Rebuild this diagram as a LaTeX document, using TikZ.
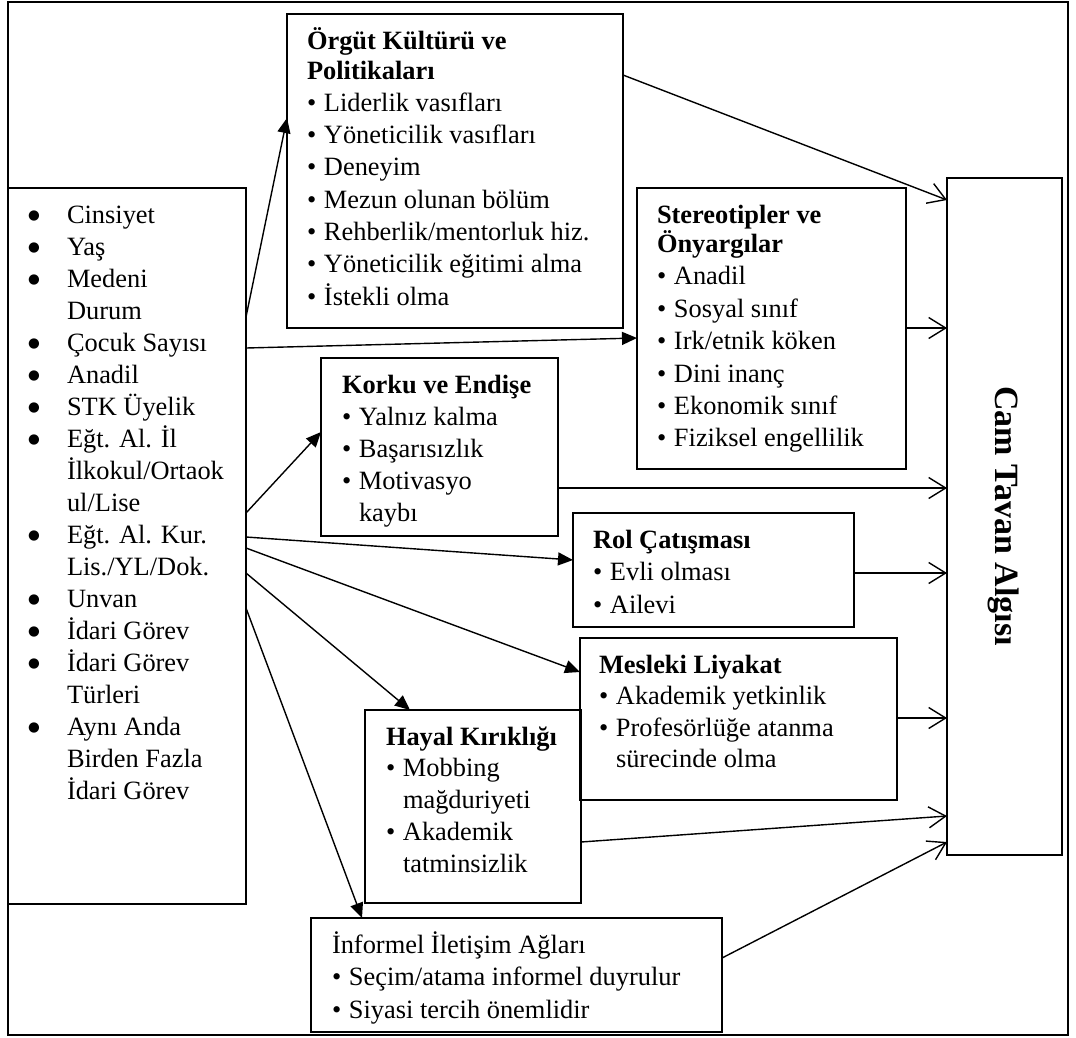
\documentclass[tikz,border=0pt]{standalone}
\usepackage{fontspec}
\setmainfont{Liberation Serif}
\newfontfamily\dejavu{DejaVu Sans}
\usetikzlibrary{arrows.meta}
\newlength{\bw}
\setlength{\bw}{17pt}
\newcommand{\bu}{\makebox[\bw][l]{•}}
\newcommand{\bigbu}{\makebox[\bw][l]{\hspace*{0.5pt}\raisebox{3.5pt}{\dejavu\fontsize{13.5}{14}\selectfont ●}}}
\newcommand{\ind}{\hspace*{\bw}}
\begin{document}
\begin{tikzpicture}[x=1pt,y=-1pt,
  box/.style={draw, line width=1.2pt, anchor=north west, inner sep=0pt, outer sep=0pt},
  txt/.style={anchor=base west, inner sep=0pt, outer sep=0pt, font=\fontsize{26.4}{32}\selectfont},
  fa/.style={line width=1.4pt, -{Triangle[length=15pt,width=13pt]}},
  oa/.style={line width=1.4pt, -{Straight Barb[length=17pt,width=21pt,line width=1.4pt]}}]
\useasboundingbox (0,0) rectangle (1076,1037);
\node[box, line width=1.8pt, minimum width=1060pt, minimum height=1033pt] (outer) at (8,2) {};
% boxes
\node[box, minimum width=238pt, minimum height=716pt] (lb) at (8,188) {};
\node[box, minimum width=336pt, minimum height=314pt] (org) at (287,14) {};
\node[box, minimum width=269pt, minimum height=281pt] (ster) at (637,188) {};
\node[box, minimum width=115pt, minimum height=677pt] (cam) at (947,178) {};
\node[box, minimum width=237pt, minimum height=178pt] (kork) at (321,358) {};
\node[box, minimum width=281pt, minimum height=114pt] (rol) at (573,513) {};
\node[box, minimum width=317pt, minimum height=162pt] (mes) at (580,638) {};
\node[box, minimum width=216pt, minimum height=193pt] (hay) at (365,710) {};
\node[box, minimum width=411pt, minimum height=114pt] (inf) at (311,918) {};
% texts
\node[txt] (lbt) at (27.5,223) {\setlength{\bw}{39.5pt}\vtop{\baselineskip=32pt\lineskiplimit=-100pt
\hbox{\bigbu Cinsiyet}
\hbox{\bigbu Yaş}
\hbox{\bigbu Medeni}
\hbox{\ind Durum}
\hbox{\bigbu Çocuk Sayısı}
\hbox{\bigbu Anadil}
\hbox{\bigbu STK Üyelik}
\hbox{\bigbu Eğt. Al. İl}
\hbox{\ind İlkokul/Ortaok}
\hbox{\ind ul/Lise}
\hbox{\bigbu Eğt. Al. Kur.}
\hbox{\ind Lis./YL/Dok.}
\hbox{\bigbu Unvan}
\hbox{\bigbu İdari Görev}
\hbox{\bigbu İdari Görev}
\hbox{\ind Türleri}
\hbox{\bigbu Aynı Anda}
\hbox{\ind Birden Fazla}
\hbox{\ind İdari Görev}}};
\node[txt] (orgt) at (307,49) {\vtop{\baselineskip=30pt\lineskiplimit=-100pt
\hbox{\bfseries Örgüt Kültürü ve}
\hbox{\bfseries Politikaları}
\baselineskip=32.3pt
\hbox{\bu Liderlik vasıfları}
\hbox{\bu Yöneticilik vasıfları}
\hbox{\bu Deneyim}
\hbox{\bu Mezun olunan bölüm}
\hbox{\bu Rehberlik/mentorluk hiz.}
\hbox{\bu Yöneticilik eğitimi alma}
\hbox{\bu İstekli olma}}};
\node[txt] (stert) at (657,223) {\vtop{\baselineskip=29.5pt\lineskiplimit=-100pt
\hbox{\bfseries Stereotipler ve}
\hbox{\bfseries Önyargılar}
\baselineskip=32.4pt
\hbox{\bu Anadil}
\hbox{\bu Sosyal sınıf}
\hbox{\bu Irk/etnik köken}
\hbox{\bu Dini inanç}
\hbox{\bu Ekonomik sınıf}
\hbox{\bu Fiziksel engellilik}}};
\node[txt] (korkt) at (342,393) {\vtop{\baselineskip=32pt\lineskiplimit=-100pt
\hbox{\bfseries Korku ve Endişe}
\hbox{\bu Yalnız kalma}
\hbox{\bu Başarısızlık}
\hbox{\bu Motivasyo}
\hbox{\ind kaybı}}};
\node[txt] (rolt) at (593,548) {\vtop{\baselineskip=32.5pt\lineskiplimit=-100pt
\hbox{\bfseries Rol Çatışması}
\hbox{\bu Evli olması}
\hbox{\bu Ailevi}}};
\node[txt] (mest) at (599,673) {\vtop{\baselineskip=31.5pt\lineskiplimit=-100pt
\hbox{\bfseries Mesleki Liyakat}
\hbox{\bu Akademik yetkinlik}
\hbox{\bu Profesörlüğe atanma}
\hbox{\ind sürecinde olma}}};
\node[txt] (hayt) at (386,745) {\vtop{\baselineskip=31.8pt\lineskiplimit=-100pt
\hbox{\bfseries Hayal Kırıklığı}
\hbox{\bu Mobbing}
\hbox{\ind mağduriyeti}
\hbox{\bu Akademik}
\hbox{\ind tatminsizlik}}};
\node[txt] (inft) at (332,953) {\vtop{\baselineskip=32.5pt\lineskiplimit=-100pt
\hbox{İnformel İletişim Ağları}
\hbox{\bu Seçim/atama informel duyrulur}
\hbox{\bu Siyasi tercih önemlidir}}};
\node[inner sep=0pt, rotate=-90, font=\fontsize{34}{40}\selectfont\bfseries] (camt) at (1004,516) {Cam Tavan Algısı};
% filled arrows from left box
\draw[fa] ([yshift=-129pt]lb.north east) -- ([yshift=-104pt]org.north west);
\draw[fa] ([yshift=-160pt]lb.north east) -- ([yshift=-150pt]ster.north west);
\draw[fa] ([yshift=-325pt]lb.north east) -- ([yshift=-74pt]kork.north west);
\draw[fa] ([yshift=-349pt]lb.north east) -- ([yshift=-47pt]rol.north west);
\draw[fa] ([yshift=-360pt]lb.north east) -- ([yshift=-34pt]mes.north west);
\draw[fa] ([yshift=-385pt]lb.north east) -- ([xshift=45pt]hay.north west);
\draw[fa] ([yshift=-420pt]lb.north east) -- ([xshift=51pt]inf.north west);
% open arrows to Cam Tavan
\draw[oa] ([yshift=-61pt]org.north east) -- ([yshift=-22pt]cam.north west);
\draw[oa] ([yshift=-140pt]ster.north east) -- ([yshift=-150pt]cam.north west);
\draw[oa] ([yshift=-130pt]kork.north east) -- ([yshift=-310pt]cam.north west);
\draw[oa] ([yshift=-60pt]rol.north east) -- ([yshift=-395pt]cam.north west);
\draw[oa] ([yshift=-80pt]mes.north east) -- ([yshift=-540pt]cam.north west);
\draw[oa] ([yshift=-132pt]hay.north east) -- ([yshift=-638pt]cam.north west);
\draw[oa] ([yshift=-40pt]inf.north east) -- ([yshift=-664pt]cam.north west);
\end{tikzpicture}
\end{document}
